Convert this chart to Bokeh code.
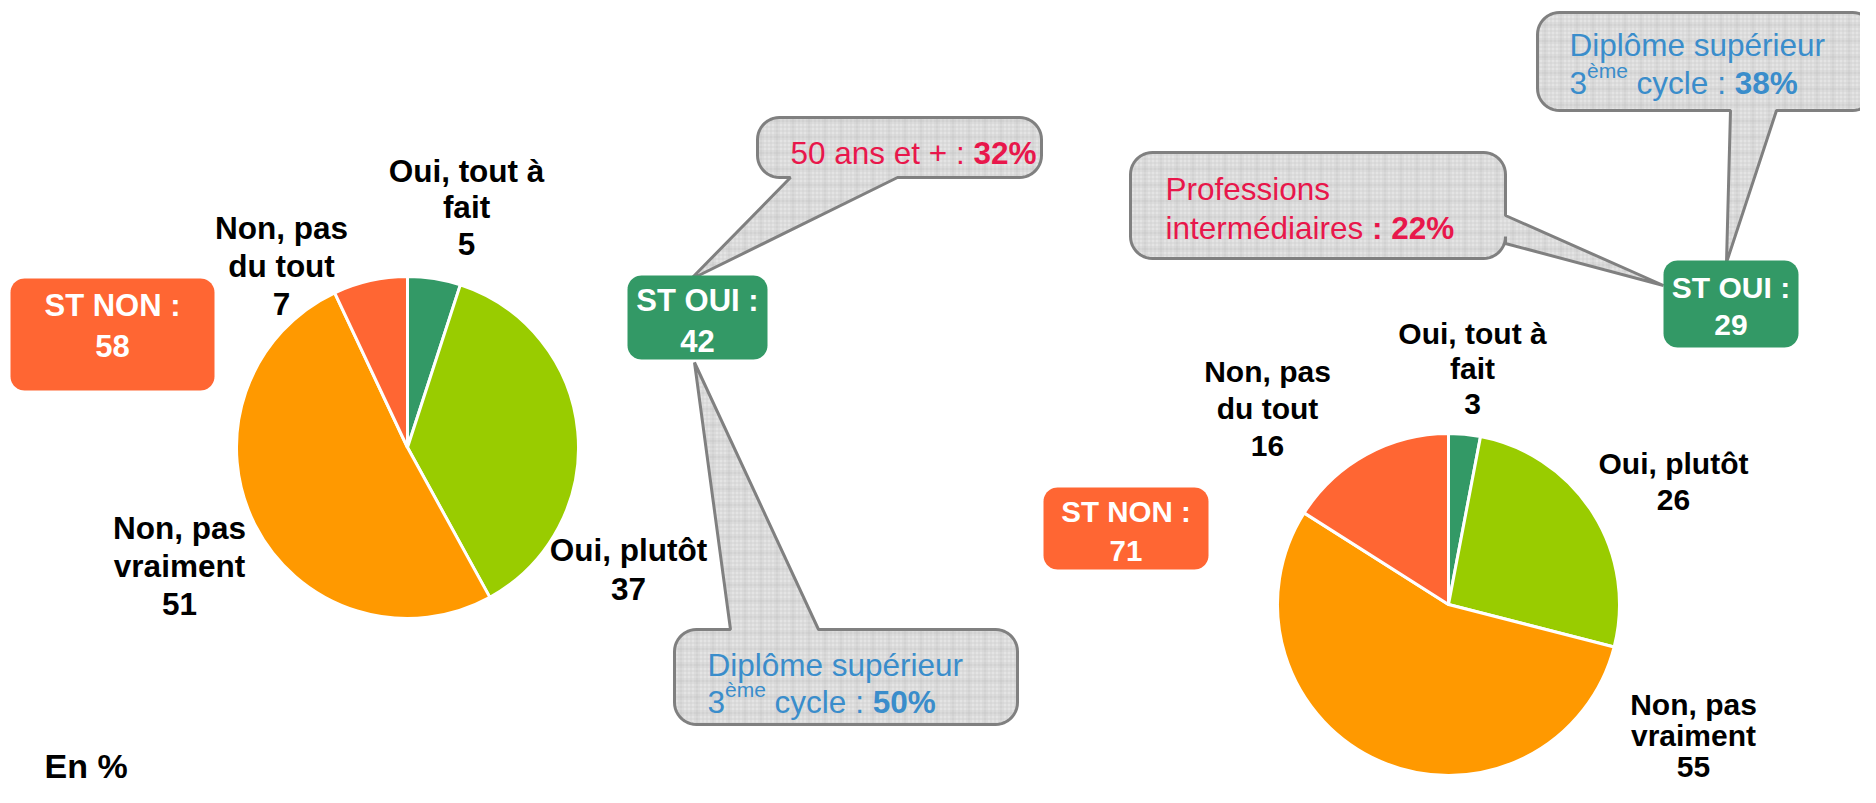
import numpy as np
from bokeh.plotting import figure
from bokeh.models import Range1d
from bokeh.core.properties import value
from bokeh.embed import file_html
from bokeh.resources import INLINE

# ---------------- data ----------------
categories = ["Oui, tout à fait", "Oui, plutôt", "Non, pas vraiment", "Non, pas du tout"]
label_lines = [["Oui, tout à", "fait"], ["Oui, plutôt"], ["Non, pas", "vraiment"], ["Non, pas", "du tout"]]
left_values = [5, 37, 51, 7]
right_values = [3, 26, 55, 16]
slice_colors = ["#339966", "#99CC00", "#FF9900", "#FF6633"]
st_oui_values = [42, 29]
st_non_values = [58, 71]
st_oui_label = "ST OUI :"
st_non_label = "ST NON :"
callout_left_top = ["50 ans et + : ", "32%"]
callout_left_bottom = ["Diplôme supérieur", "3", "ème", " cycle : ", "50%"]
callout_right_top = ["Diplôme supérieur", "3", "ème", " cycle : ", "38%"]
callout_right_left = ["Professions", "intermédiaires", " : 22%"]
unit_note = "En %"

# ---------------- layout ----------------
W, H, OFF = 1860, 787, 0
FONT = value("Liberation Sans")
RED = "#E8174B"
BLUE = "#3A8DCB"
BUBBLE_FILL = "#E4E4E4"
BUBBLE_LINE = "#808080"


def X(fx):
    return fx - OFF


def Y(fy):
    return H - (fy - OFF)


REG = {' ': 278, ':': 278, '+': 584, '%': 889, 'a': 556, 'c': 500, 'd': 556, 'e': 556, 'f': 278,
       'i': 222, 'l': 222, 'm': 833, 'n': 556, 'o': 556, 'p': 556, 'r': 333, 's': 500, 't': 278,
       'u': 556, 'y': 500, 'D': 722, 'P': 667, 'è': 556, 'é': 556, 'ô': 556}
BOLD = {' ': 278, ':': 333, '%': 889}


def tw(s, size, bold=False):
    tab = BOLD if bold else REG
    return sum(tab.get(ch, 556) for ch in s) / 1000.0 * size


p = figure(width=W, height=H, x_range=Range1d(0, W), y_range=Range1d(0, H),
           output_backend="svg", toolbar_location=None, min_border=0,
           x_axis_type=None, y_axis_type=None)
p.grid.visible = False
p.outline_line_color = None
p.background_fill_color = "white"


def txt(fx, fy, s, size, bold=False, color="black", align="center", baseline="middle"):
    p.text(x=[X(fx)], y=[Y(fy)], text=[s], text_font=FONT, text_font_size=f"{size}px",
           text_font_style="bold" if bold else "normal", text_color=color,
           text_align=align, text_baseline=baseline)


def rounded_path(x0, y0, x1, y1, r, tail=None, n=12):
    pts = []

    def arc(cx, cy, t0, t1):
        for t in np.linspace(t0, t1, n):
            pts.append((cx + r * np.cos(t), cy + r * np.sin(t)))

    edge = tail[0] if tail else None
    if edge == "top":
        pts.extend([(tail[1], y0), (tail[3], tail[4]), (tail[2], y0)])
    arc(x1 - r, y0 + r, -np.pi / 2, 0)
    if edge == "right":
        pts.extend([(x1, tail[1]), (tail[3], tail[4]), (x1, tail[2])])
    arc(x1 - r, y1 - r, 0, np.pi / 2)
    if edge == "bottom":
        pts.extend([(tail[2], y1), (tail[3], tail[4]), (tail[1], y1)])
    arc(x0 + r, y1 - r, np.pi / 2, np.pi)
    arc(x0 + r, y0 + r, np.pi, 1.5 * np.pi)
    return [X(a) for a, b in pts], [Y(b) for a, b in pts]


def bubble(x0, y0, x1, y1, tail):
    xs, ys = rounded_path(x0, y0, x1, y1, 22, tail)
    p.patch(xs, ys, fill_color=BUBBLE_FILL, line_alpha=0,
            hatch_pattern="+", hatch_color="#CACACA", hatch_scale=4, hatch_weight=0.6)
    p.patch(xs, ys, fill_alpha=0, line_alpha=0,
            hatch_pattern="+", hatch_color="#B4B4B4", hatch_scale=16, hatch_weight=0.8, hatch_alpha=0.7)
    p.patch(xs, ys, fill_alpha=0, line_color=BUBBLE_LINE, line_width=3)


def box(x0, y0, x1, y1, color):
    xs, ys = rounded_path(x0, y0, x1, y1, 14)
    p.patch(xs, ys, fill_color=color, line_alpha=0)


def runs(fx, fy_base, parts, color):
    x = fx
    for s, size, bold, dy in parts:
        lead = len(s) - len(s.lstrip(" "))
        core = s.strip(" ")
        if core:
            txt(x + tw(" " * lead, size, bold), fy_base + dy, core, size, bold, color,
                align="left", baseline="alphabetic")
        x += tw(s, size, bold)


def pie(values, cx, cy, r):
    v = np.array(values, dtype=float)
    frac = v / v.sum()
    cum = np.concatenate([[0.0], np.cumsum(frac)])
    start = np.pi / 2 - 2 * np.pi * cum[1:]
    end = np.pi / 2 - 2 * np.pi * cum[:-1]
    p.wedge(x=[X(cx)] * len(v), y=[Y(cy)] * len(v), radius=r, start_angle=list(start),
            end_angle=list(end), fill_color=slice_colors, line_color="white", line_width=3)


# ---- pies ----
pie(left_values, 407, 447, 171)
pie(right_values, 1448, 604, 171)

# ---- pie labels: (center x, first line y, line spacing) ----
LBL_L = [(466, 170, 36.5), (628, 549, 39), (179, 527, 38), (281, 227, 38)]
LBL_R = [(1472, 333, 35), (1673, 463, 36), (1693, 704, 31), (1267, 371, 37)]
for vals, pos, size in [(left_values, LBL_L, 31.5), (right_values, LBL_R, 30)]:
    for i, (lx, ly, sp) in enumerate(pos):
        lines = label_lines[i] + [str(vals[i])]
        for k, s in enumerate(lines):
            txt(lx, ly + k * sp, s, size, bold=True)

# ---- callouts ----
bubble(757, 117, 1041, 177, ("bottom", 790, 897, 690, 279))
bubble(674, 629, 1017, 724, ("top", 730, 818, 694, 362))
bubble(1537, 12, 1874, 110, ("bottom", 1730, 1776, 1726, 262))
bubble(1130, 152, 1505, 258, ("right", 215, 243, 1663, 285))

FS = 31.5
SUP = 21
runs(790, 152, [(callout_left_top[0], FS, False, 0), (callout_left_top[1], FS, True, 0)], RED)

for (lx, b1, b2), parts, col in [((707, 664, 701), callout_left_bottom, BLUE),
                                 ((1569, 44, 82), callout_right_top, BLUE)]:
    runs(lx, b1, [(parts[0], FS, False, 0)], col)
    runs(lx, b2, [(parts[1], FS, False, 0), (parts[2], SUP, False, -12),
                  (parts[3], FS, False, 0), (parts[4], FS, True, 0)], col)

runs(1165, 188, [(callout_right_left[0], FS, False, 0)], RED)
runs(1165, 227, [(callout_right_left[1], FS, False, 0), (callout_right_left[2], FS, True, 0)], RED)

# ---- ST boxes ----
ST_NON_BOX = [(10, 278, 214, 390, 305, 345, 31), (1043, 487, 1208, 569, 511, 550, 29.5)]
ST_OUI_BOX = [(627, 275, 767, 359, 300, 340, 31), (1663, 260, 1798, 347, 287, 324, 30)]
for boxes, vals, lab, col in [(ST_NON_BOX, st_non_values, st_non_label, "#FF6633"),
                              (ST_OUI_BOX, st_oui_values, st_oui_label, "#339966")]:
    for (x0, y0, x1, y1, t1, t2, sz), v in zip(boxes, vals):
        box(x0, y0, x1, y1, col)
        cx = (x0 + x1) / 2
        txt(cx, t1, lab, sz, bold=True, color="white")
        txt(cx, t2, str(v), sz, bold=True, color="white")

# ---- unit note ----
txt(44, 765, unit_note, 34, bold=True, align="left", baseline="alphabetic")

open("out.html", "w").write(file_html(p, INLINE))
